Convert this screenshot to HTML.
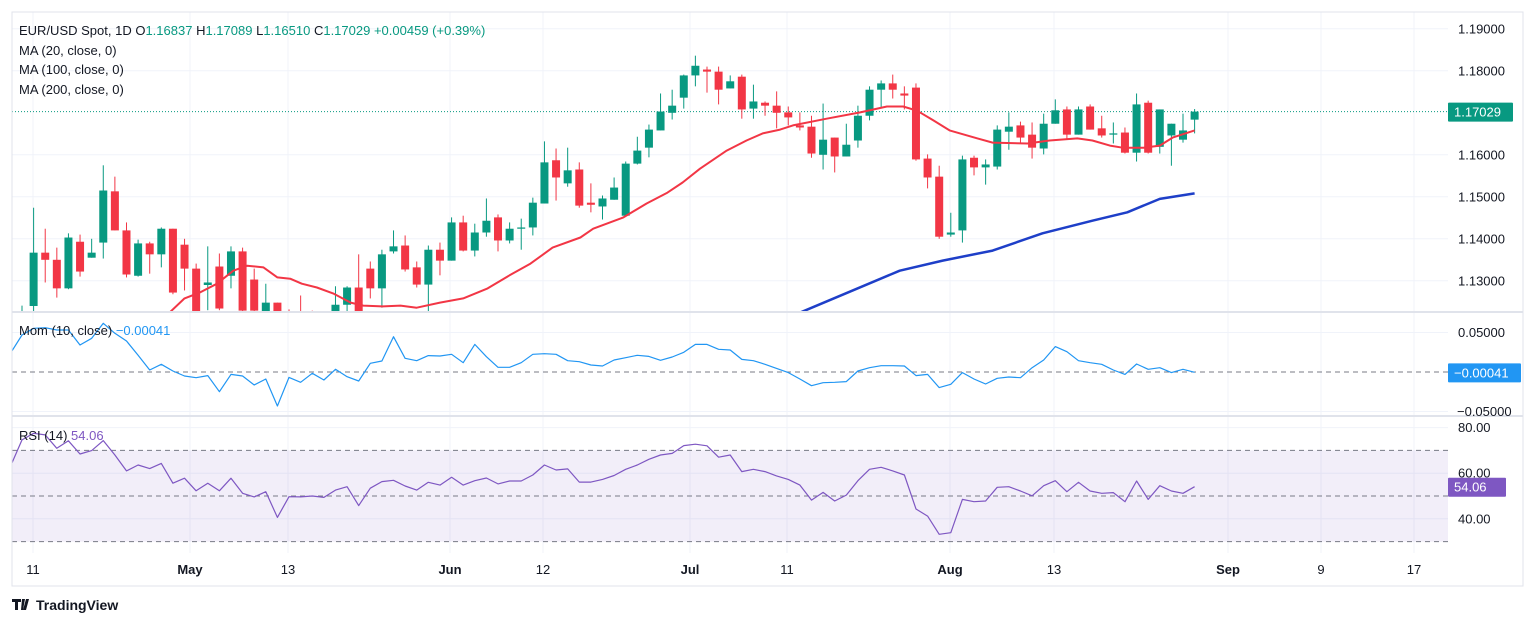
<!DOCTYPE html>
<html><head><meta charset="utf-8"><style>
html,body{margin:0;padding:0;background:#fff;width:1536px;height:625px;overflow:hidden;font-family:"Liberation Sans",sans-serif}
svg text{font-family:"Liberation Sans",sans-serif}
</style></head><body>
<svg id="chart" width="1536" height="625" xmlns="http://www.w3.org/2000/svg">
<rect x="0" y="0" width="1536" height="625" fill="#fff"/>
<g id="grid"></g>
<rect x="12" y="416" width="1436" height="0" fill="none"/>
<g id="rsiBand"></g>
<g id="marks"></g>
<g id="axes"></g>
<g font-size="13">
<text x="19" y="35" fill="#131722">EUR/USD Spot, 1D <tspan fill="#131722">O</tspan><tspan fill="#089981">1.16837</tspan> <tspan fill="#131722">H</tspan><tspan fill="#089981">1.17089</tspan> <tspan fill="#131722">L</tspan><tspan fill="#089981">1.16510</tspan> <tspan fill="#131722">C</tspan><tspan fill="#089981">1.17029</tspan> <tspan fill="#089981">+0.00459 (+0.39%)</tspan></text>
<text x="19" y="55" fill="#131722">MA (20, close, 0)</text>
<text x="19" y="74" fill="#131722">MA (100, close, 0)</text>
<text x="19" y="94" fill="#131722">MA (200, close, 0)</text>
<text x="19" y="335" fill="#131722">Mom (10, close) <tspan fill="#2196f3">−0.00041</tspan></text>
<text x="19" y="440" fill="#131722">RSI (14) <tspan fill="#7e57c2">54.06</tspan></text>
</g>
<g>
<path d="M12 599h9v3h-3v8h-3v-8h-3z M22 599h3l-2 11h-2z M26 599h3l-3 11h-3z" fill="#131722"/>
<text x="36" y="610" font-size="14" font-weight="bold" fill="#131722">TradingView</text>
</g>
</svg>
<script>
const opens=[1.118,1.124,1.1367,1.135,1.1282,1.1393,1.1355,1.1391,1.1513,1.142,1.1312,1.1389,1.1363,1.1424,1.1386,1.1329,1.129,1.1334,1.1312,1.137,1.1303,1.1225,1.1248,1.1225,1.119,1.118,1.117,1.119,1.1243,1.1284,1.1329,1.1282,1.137,1.1384,1.1332,1.1291,1.1374,1.1348,1.1439,1.1372,1.1415,1.1451,1.1396,1.1424,1.1427,1.1484,1.1587,1.1532,1.1565,1.1486,1.1477,1.1493,1.1455,1.1579,1.1617,1.1658,1.17,1.1736,1.1789,1.1803,1.1798,1.1758,1.1786,1.171,1.1724,1.1717,1.1701,1.167,1.1667,1.16,1.1641,1.1596,1.1634,1.1693,1.1755,1.177,1.1746,1.176,1.1591,1.1548,1.141,1.142,1.1593,1.157,1.1572,1.1655,1.167,1.1648,1.1615,1.1674,1.1708,1.1648,1.1715,1.1663,1.1648,1.1653,1.1605,1.1724,1.1619,1.1646,1.1636,1.16837];
const highs=[1.1241,1.1474,1.1424,1.1379,1.1413,1.141,1.14,1.1575,1.1548,1.1439,1.1398,1.1393,1.1427,1.1424,1.14,1.1341,1.1382,1.1365,1.1382,1.1379,1.1329,1.1293,1.1248,1.1232,1.1265,1.1229,1.121,1.1287,1.1287,1.1363,1.1346,1.1374,1.142,1.1408,1.1346,1.1384,1.1391,1.1451,1.1455,1.1436,1.1496,1.1458,1.1439,1.1448,1.1498,1.1632,1.1615,1.1617,1.1582,1.1532,1.1503,1.1546,1.1584,1.1643,1.1672,1.1746,1.1755,1.1791,1.1836,1.181,1.181,1.1789,1.1791,1.1767,1.1727,1.1751,1.1715,1.1701,1.1693,1.1722,1.1641,1.1674,1.1717,1.1763,1.1777,1.1791,1.1763,1.177,1.1601,1.1574,1.1462,1.1598,1.1598,1.1589,1.167,1.1701,1.1679,1.1677,1.1698,1.1732,1.1715,1.1715,1.172,1.1693,1.1677,1.1665,1.1746,1.1729,1.1708,1.1674,1.1698,1.17089];
const lows=[1.116,1.122,1.1296,1.126,1.128,1.131,1.1355,1.1353,1.142,1.1308,1.131,1.1317,1.1332,1.1268,1.1277,1.12,1.123,1.123,1.1282,1.12,1.12,1.12,1.119,1.109,1.11,1.115,1.11,1.116,1.12,1.12,1.1258,1.1236,1.1365,1.1322,1.1284,1.122,1.1313,1.1348,1.137,1.1358,1.1405,1.137,1.1389,1.1374,1.1408,1.1484,1.1491,1.1524,1.1474,1.1463,1.1446,1.1493,1.1453,1.1577,1.1594,1.1658,1.1684,1.171,1.1763,1.1748,1.172,1.1758,1.1686,1.1686,1.1693,1.1663,1.167,1.1658,1.1593,1.1565,1.1558,1.1596,1.1617,1.1682,1.1713,1.1734,1.1708,1.1586,1.152,1.14,1.1405,1.1391,1.1551,1.1529,1.1565,1.1612,1.1629,1.1591,1.1601,1.1674,1.1636,1.1648,1.166,1.1641,1.1627,1.1603,1.1584,1.1603,1.1603,1.1574,1.1629,1.1651];
const closes=[1.121,1.1367,1.135,1.1282,1.1403,1.1322,1.1367,1.1515,1.142,1.1315,1.1389,1.1363,1.1424,1.1272,1.1329,1.1225,1.1296,1.1234,1.137,1.1229,1.1229,1.1248,1.1225,1.109,1.118,1.117,1.119,1.1243,1.1284,1.1225,1.1282,1.1363,1.1382,1.1327,1.1291,1.1374,1.1348,1.1439,1.1372,1.1415,1.1443,1.1396,1.1424,1.1427,1.1486,1.1582,1.1546,1.1563,1.1479,1.1481,1.1496,1.1522,1.1579,1.161,1.166,1.1703,1.1717,1.1789,1.1812,1.1798,1.1755,1.1775,1.1708,1.1727,1.1717,1.17,1.1689,1.1665,1.1603,1.1636,1.1596,1.1624,1.1693,1.1755,1.177,1.1755,1.1741,1.1589,1.1546,1.1405,1.1415,1.1589,1.157,1.1577,1.166,1.1667,1.1641,1.1617,1.1674,1.1706,1.1648,1.1708,1.166,1.1646,1.1651,1.1605,1.172,1.1605,1.1708,1.1674,1.1658,1.17029];
const ma20Idx=[12.7,14.0,15.3,16.8,18.2,19.4,20.8,22.0,23.1,24.1,25.4,26.8,28.3,29.4,31.1,32.6,34.0,36.0,38.0,40.1,42.0,43.8,45.7,48.1,49.2,51.8,53.8,55.6,56.9,58.4,60.7,62.4,63.8,65.3,66.4,69.3,72.2,74.5,75.9,77.1,78.5,79.9,82.3,83.6,86.6,88.5,90.9,92.2,93.7,94.8,96.6,98.0,99.1,101.0];
const ma20Val=[1.1224,1.1258,1.1272,1.1293,1.1324,1.1336,1.1332,1.1308,1.1305,1.1293,1.1284,1.127,1.1248,1.1241,1.1239,1.1241,1.1236,1.1248,1.1258,1.1282,1.1313,1.1341,1.1379,1.1403,1.1424,1.1451,1.1484,1.151,1.1534,1.1567,1.161,1.1634,1.1651,1.166,1.167,1.1686,1.1701,1.1715,1.1715,1.1705,1.1682,1.1658,1.1639,1.1629,1.1627,1.1634,1.1639,1.1634,1.1622,1.1617,1.1617,1.1622,1.1641,1.1658];
const ma100Idx=[67.0,71.3,75.6,79.3,83.6,87.9,92.2,95.2,98.0,101.0];
const ma100Val=[1.1224,1.1274,1.1324,1.1348,1.1372,1.1413,1.1443,1.1463,1.1495,1.1508];
const momVals=[0.0236,0.0468,0.0553,0.0561,0.0532,0.0532,0.0342,0.0426,0.0616,0.049,0.0392,0.0211,0.0025,0.0097,0.0013,-0.0051,-0.0072,-0.0046,-0.0249,-0.003,-0.0051,-0.0165,-0.0089,-0.043,-0.0068,-0.0131,-0.0017,-0.0101,0.0034,-0.0059,-0.0114,0.011,0.0139,0.0447,0.0173,0.0143,0.0207,0.0203,0.0224,0.0118,0.035,0.0194,0.0059,0.0059,0.0118,0.0224,0.0232,0.0224,0.0143,0.0131,0.0089,0.0076,0.0152,0.0181,0.0211,0.0198,0.0148,0.019,0.0249,0.035,0.035,0.0287,0.0278,0.016,0.0143,0.0097,0.0046,-0.0008,-0.0089,-0.0173,-0.0135,-0.0131,-0.0122,0.0013,0.0055,0.008,0.008,0.0076,-0.0046,-0.003,-0.0198,-0.0156,-0.0008,-0.0089,-0.0152,-0.008,-0.0063,-0.0072,0.0055,0.0152,0.0321,0.0257,0.0143,0.0118,0.0097,0.0025,-0.003,0.0101,0.0034,0.0055,-0.0008,0.0034,-0.00041];
const rsiVals=[62.9,74.6,77.5,76.8,70.9,74.2,68.4,69.9,74.3,68.0,61.0,63.6,62.0,64.3,55.6,57.8,52.3,55.6,52.3,57.8,51.2,49.6,51.9,40.6,49.7,49.6,50.0,49.4,52.6,54.1,45.8,53.4,56.3,56.9,54.4,52.6,56.0,54.8,58.2,54.8,56.7,57.9,55.3,56.6,56.6,59.2,63.6,61.4,61.9,56.1,56.1,57.3,59.0,61.7,63.6,66.1,68.0,68.7,72.1,72.7,72.0,67.0,68.0,60.7,61.7,60.7,58.8,57.3,54.8,48.2,51.6,47.8,50.4,56.7,61.7,62.6,61.0,59.2,44.3,41.2,33.2,33.9,48.5,47.5,47.8,53.8,54.1,52.2,50.1,54.5,56.7,51.9,56.0,52.2,51.2,51.5,47.5,56.6,48.5,54.5,52.2,51.2,54.06];
const priceTicks=[1.19,1.18,1.16,1.15,1.14,1.13];
const momTicks=[0.05,-0.05];
const rsiTicks=[80,60,40];
const xLabels=["11","May","13","Jun","12","Jul","11","Aug","13","Sep","9","17"];
const xLabelPos=[33,190,288,450,543,690,787,950,1054,1228,1321,1414];
const xLabelBold=[0,1,0,1,0,1,0,1,0,1,0,0];

const NS="http://www.w3.org/2000/svg";
const X0=22,DX=11.61,PL=12,PR=1448;
const xOf=i=>X0+DX*i;
const yP=p=>28.8+(1.19-p)*4200;
const yM=m=>372-m/0.05*39.5;
const yR=r=>496-(r-50)*2.28;
function mk(tag,attrs,parent){const e=document.createElementNS(NS,tag);for(const k in attrs)e.setAttribute(k,attrs[k]);parent.appendChild(e);return e;}
const grid=document.getElementById('grid'),marks=document.getElementById('marks'),axes=document.getElementById('axes'),band=document.getElementById('rsiBand');

// frame
let fr=mk('rect',{x:12,y:12,width:1511,height:574,fill:'none',stroke:'#e0e3eb'},axes);


[312,416].forEach(y=>{let l=mk('line',{x1:12,x2:1523,y1:y,y2:y,stroke:'#e0e3eb','stroke-width':2},axes);

});
// vertical grid
xLabelPos.forEach(x=>{let l=mk('line',{x1:x,x2:x,y1:12,y2:553,stroke:'#f0f3fa'},grid);

});
// horizontal grids + ticks
priceTicks.forEach(p=>{const y=yP(p);let l=mk('line',{x1:PL,x2:PR,y1:y,y2:y,stroke:'#f0f3fa'},grid);


let t=mk('text',{x:1458,y:y+4.5,'font-size':13,fill:'#131722'},axes);t.textContent=p.toFixed(5);

});
momTicks.forEach(m=>{const y=yM(m);let l=mk('line',{x1:PL,x2:PR,y1:y,y2:y,stroke:'#f0f3fa'},grid);


let t=mk('text',{x:m<0?1457:1458,y:y+4.5,'font-size':13,fill:'#131722'},axes);t.textContent=(m<0?'−':'')+Math.abs(m).toFixed(5);

});
rsiTicks.forEach(r=>{const y=yR(r);let l=mk('line',{x1:PL,x2:PR,y1:y,y2:y,stroke:'#f0f3fa'},grid);


let t=mk('text',{x:1458,y:y+4.5,'font-size':13,fill:'#131722'},axes);t.textContent=r.toFixed(2);

});
// rsi band
let bd=mk('rect',{x:PL,y:yR(70),width:PR-PL,height:yR(30)-yR(70),fill:'#7e57c2','fill-opacity':0.1},band);


[70,50,30].forEach(r=>{let l=mk('line',{x1:PL,x2:PR,y1:yR(r),y2:yR(r),stroke:'#787b86','stroke-dasharray':'5,4'},band);

});
let zl=mk('line',{x1:PL,x2:PR,y1:yM(0),y2:yM(0),stroke:'#787b86','stroke-dasharray':'5,4'},band);



// main pane clip
const defs=mk('defs',{},marks);
const cp=mk('clipPath',{id:'mainClip'},defs);mk('rect',{x:PL,y:12,width:PR-PL,height:300},cp);
const main=mk('g',{'clip-path':'url(#mainClip)'},marks);
// last price line
let lp=mk('line',{x1:PL,x2:PR,y1:yP(closes[closes.length-1]),y2:yP(closes[closes.length-1]),stroke:'#089981','stroke-dasharray':'1,2'},main);


// candles
for(let i=0;i<closes.length;i++){
 const up=closes[i]>=opens[i],col=up?'#089981':'#f23645',x=xOf(i);
 const g=mk('g',{},main);
 
 
 mk('line',{x1:x,x2:x,y1:yP(highs[i]),y2:yP(lows[i]),stroke:col,'stroke-width':1},g);
 const t=yP(Math.max(opens[i],closes[i])),b=yP(Math.min(opens[i],closes[i]));
 mk('rect',{x:x-4,y:t,width:8,height:Math.max(1,b-t),fill:col},g);
}
function line(idx,vals,yf,col,w,parent,name){
 const d=idx.map((v,k)=>(k?'L':'M')+xOf(v).toFixed(1)+' '+yf(vals[k]).toFixed(1)).join(' ');
 const p=mk('path',{d:d,fill:'none',stroke:col,'stroke-width':w,'stroke-linejoin':'round'},parent);
 
 
}
line(ma20Idx,ma20Val,yP,'#f23645',2,main,'ma20-line');
line(ma100Idx,ma100Val,yP,'#1e3fc8',2.5,main,'ma100-line');
const subIdx=momVals.map((v,k)=>k-1);
const mc=mk('clipPath',{id:'subClip'},defs);mk('rect',{x:PL,y:313,width:PR-PL,height:240},mc);
const sub=mk('g',{'clip-path':'url(#subClip)'},marks);
line(subIdx,momVals,yM,'#2196f3',1.2,sub,'momentum-line');
line(rsiVals.map((v,k)=>k-1),rsiVals,yR,'#7e57c2',1.2,sub,'rsi-line');

// value labels
function tag(y,txt,bg,w,name){const g=mk('g',{},axes);
 
 
 mk('rect',{x:1448,y:y-9,width:w,height:19,fill:bg,rx:1},g);
 const t=mk('text',{x:1454,y:y+5,'font-size':13,fill:'#fff'},g);t.textContent=txt;}
tag(yP(closes[closes.length-1]),closes[closes.length-1].toFixed(5),'#089981',65,'last-price-label');
tag(yM(momVals[momVals.length-1]),'−'+Math.abs(momVals[momVals.length-1]).toFixed(5),'#2196f3',73,'mom-value-label');
tag(yR(rsiVals[rsiVals.length-1]),rsiVals[rsiVals.length-1].toFixed(2),'#7e57c2',58,'rsi-value-label');
// x labels
xLabels.forEach((s,k)=>{const t=mk('text',{x:xLabelPos[k],y:574,'font-size':13,'text-anchor':'middle',fill:'#131722','font-weight':xLabelBold[k]?'bold':'normal'},axes);t.textContent=s;

});
</script>
</body></html>
